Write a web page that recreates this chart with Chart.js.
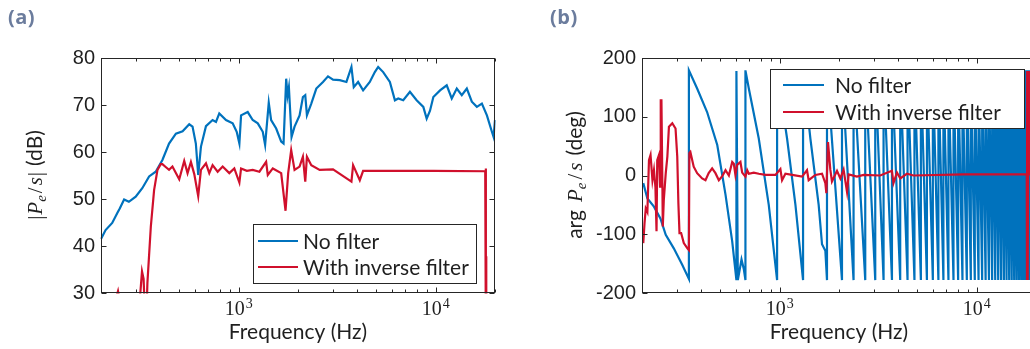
<!DOCTYPE html>
<html><head><meta charset="utf-8">
<script src="https://cdn.jsdelivr.net/npm/chart.js@4"></script>
<style>
html,body{margin:0;padding:0;background:#fff;overflow:hidden;width:1030px;height:349px;}
#wrap{position:relative;width:1030px;height:349px;overflow:hidden;background:#fff;}
canvas{position:absolute;top:0;}
#ca{left:0px}
#cb{left:541px}
.lab{position:absolute;font-family:"Open Sans";font-weight:bold;font-size:20px;line-height:20px;color:#6b7c9d;top:7px;letter-spacing:0.5px}
</style></head><body>
<div id="wrap">
<canvas id="ca" width="515" height="349"></canvas>
<canvas id="cb" width="515" height="349"></canvas>
<div class="lab" style="left:8px">(a)</div>
<div class="lab" style="left:550px">(b)</div>
</div>
<script>
// ---------- data ----------
const legendLabels = ['No filter', 'With inverse filter'];
const xTickValues = [1000, 10000];
const xTickExponents = ['3', '4'];
const xMinorTicks = [200,300,400,500,600,700,800,900,2000,3000,4000,5000,6000,7000,8000,9000,20000];

// (a) magnitude, no filter
const magFreqNoFilter = [200,211,228,242,249,262,277,300,324,351,379,410,443,480,519,561,583,606,623,643,682,737,767,797,862,932,977,1008,1028,1111,1178,1250,1325,1362,1421,1461,1550,1643,1689,1742,1770,1798,1855,1921,2037,2118,2177,2220,2336,2477,2678,2840,3012,3257,3522,3735,3838,4037,4281,4629,4909,5105,5413,5853,6208,6455,6843,7400,8002,8653,8999,9357,9730,10522,11376,12064,12794,13565,14386,15256,16178,17157,18195,19289,19670,20000];
const magNoFilter = [41.5,43.4,44.9,47.0,48.0,49.9,49.4,50.5,52.3,54.8,55.8,58.3,61.8,63.9,64.4,65.9,65.4,61.8,55.1,61.1,65.5,66.8,66.4,68.2,66.8,66.1,64.3,61.8,67.8,68.5,66.8,66.1,64.3,61.5,70.5,66.8,65.0,62.2,61.8,75.6,72.0,73.8,63.2,65.4,67.8,71.7,72.1,67.8,70.3,73.5,74.9,76.1,75.4,75.3,74.9,78.1,73.8,74.9,73.1,74.9,77.0,78.1,77.0,74.9,71.0,71.4,71.0,72.8,71.0,69.6,67.1,68.8,71.7,73.1,74.2,71.4,73.5,72.1,73.5,70.7,69.6,70.3,67.8,64.3,63.2,66.8];

// (a) magnitude, with inverse filter
const magFreqInverse = [200,228,244,252,290,314,323,329,334,340,344,358,372,387,402,410,426,443,461,499,529,550,572,595,623,643,682,709,737,782,829,896,950,1008,1028,1100,1178,1274,1378,1405,1490,1643,1729,1783,1847,1921,2037,2118,2177,2220,2336,2576,3012,3735,3808,4118,4281,5413,9730,17840,17950,18000,18030,18060,20000];
const magInverse = [22,26,30.4,27,24,28,34.6,33,26,25,32.1,44.1,51.9,56.2,57.4,57.4,56.8,56.2,56.9,54.2,58.1,55.5,57.9,55.3,50.6,56.2,57.6,55.5,57.2,55.8,56.9,55.5,56.5,53.5,56.5,56.0,56.2,55.8,57.9,55.1,56.5,55.5,47.5,55.5,60.4,56.2,56.9,59.0,53.7,59.0,57.2,56.2,56.3,53.7,57.2,54.0,56.0,56.0,56.0,55.9,56.5,20,37.8,20,20];

// (b) phase, no filter (wrapped sawtooth, wrap frequencies)
const argFreqNoFilter = [203,213,230,248,264,290,320,346,346,381,428,482,531,574,603,603,613,640,658,670,670,697,783,880,970,970,1090,1202,1314,1314,1431,1577,1640,1705,1738,1738,
 2071,2071,2371,2371,2718,2718,3055,3055,3367,3367,3714,3714,4090,4090,4456,4456,4831,4831,5207,5207,5589,5589,5990,5990,6392,6392,6777,6777,7188,7188,7624,7624,8051,8051,8467,8467,8911,8911,9337,9337,
 9780,9780,10220,10220,10660,10660,11100,11100,11540,11540,11980,11980,12420,12420,12860,12860,13300,13300,13740,13740,14180,14180,14620,14620,15060,15060,15500,15500,15940,15940,16380,16380,16820,16820,17260,17260,17700,17700,18140,18140,18580,18580,19020,19020,19460,19460,19900,19900,20000];
const argNoFilter = [-13,-39,-53,-73,-101,-124,-152,-176,179,148,108,52,-33,-112,-178,178,-178,-143,-160,-178,179,148,63,-50,-178,179,63,-50,-178,179,63,-50,-117,-128,-178,179,
 -178,179,-178,179,-178,179,-178,179,-178,179,-178,179,-178,179,-178,179,-178,179,-178,179,-178,179,-178,179,-178,179,-178,179,-178,179,-178,179,-178,179,-178,179,-178,179,-178,179,
 -178,179,-178,179,-178,179,-178,179,-178,179,-178,179,-178,179,-178,179,-178,179,-178,179,-178,179,-178,179,-178,179,-178,179,-178,179,-178,179,-178,179,-178,179,-178,179,-178,179,-178,179,-178,179,170];

// (b) phase, with inverse filter
const argFreqInverse = [203,206,209,213,217,221,226,230,234,237,239,244,247,249,251,254,255,258,264,269,274,285,296,302,306,310,316,326,340,346,348,352,366,381,404,420,436,454,472,491,511,531,552,574,585,596,608,632,645,670,684,697,739,783,847,951,1008,1028,1069,1156,1298,1376,1403,1517,1640,1705,1725,1759,1807,1842,1954,2032,2110,2197,2239,2467,2668,3238,3712,3781,3937,4093,4424,4779,8566,17950,18000,18040,18100,18200,18300,18400];
const argInverse = [-115,-81,-56,-62,26,35,-8,9,-20,-95,26,35,-19,128,128,-25,-87,-42,4,32,83,89,80,32,-47,-98,-98,-115,-124,-127,38,40,15,4,-5,-8,4,12,4,-8,-1,9,0,23,20,1,18,23,5,-2,9,3,5,3,1,1,11,-8,3,1,-2,9,-8,1,3,-13,-30,57,10,-10,8,-5,10,-28,2,-2,1,0,8,-13,5,-5,3,0,2,2,-178,178,140,-178,178,0];

// ---------- styling ----------
const BLUE = '#0072BD';
const RED = '#D0102C';
const AX = '#262626';
const TXT = '#1f1f1f';

function zip(xs, ys) { return xs.map((v, i) => ({x: v, y: ys[i]})); }

const decoPlugin = {
  id: 'deco',
  afterDatasetsDraw(chart, args, o) {
    const {ctx, chartArea: a, scales} = chart;
    const x = scales.x, y = scales.y;
    const L = Math.round(a.left) + 0.5, R = Math.round(a.right) - 0.5;
    const T = Math.round(a.top) + 0.5, B = Math.round(a.bottom) - 0.5;
    ctx.save();
    ctx.strokeStyle = AX; ctx.lineWidth = 1;
    ctx.strokeRect(L, T, R - L, B - T);
    ctx.beginPath();
    xMinorTicks.forEach(v => { const p = Math.round(x.getPixelForValue(v)) + 0.5;
      ctx.moveTo(p, B); ctx.lineTo(p, B - 3); ctx.moveTo(p, T); ctx.lineTo(p, T + 3); });
    xTickValues.forEach(v => { const p = Math.round(x.getPixelForValue(v)) + 0.5;
      ctx.moveTo(p, B); ctx.lineTo(p, B - 5); ctx.moveTo(p, T); ctx.lineTo(p, T + 5); });
    y.ticks.forEach(t => { const p = Math.round(y.getPixelForValue(t.value)) + 0.5;
      ctx.moveTo(L, p); ctx.lineTo(L + 5, p); ctx.moveTo(R, p); ctx.lineTo(R - 5, p); });
    ctx.stroke();
    // x tick labels 10^n
    ctx.fillStyle = TXT; ctx.textBaseline = 'alphabetic'; ctx.textAlign = 'left';
    xTickValues.forEach((v, i) => {
      const p = x.getPixelForValue(v);
      ctx.font = '20px "Liberation Serif"'; const w1 = ctx.measureText('10').width;
      ctx.font = '14px "Liberation Serif"'; const w2 = ctx.measureText(xTickExponents[i]).width;
      const s = p - (w1 + w2 + 1) / 2;
      ctx.font = '20px "Liberation Serif"'; ctx.fillText('10', s, 315);
      ctx.font = '14px "Liberation Serif"'; ctx.fillText(xTickExponents[i], s + w1 + 1, 308);
    });
    // legend
    const lg = o.legend;
    ctx.fillStyle = '#fff';
    ctx.fillRect(lg.x1, lg.y1, lg.x2 - lg.x1, lg.y2 - lg.y1);
    ctx.strokeStyle = AX; ctx.lineWidth = 1;
    ctx.strokeRect(lg.x1 + 0.5, lg.y1 + 0.5, lg.x2 - lg.x1, lg.y2 - lg.y1);
    const cols = [BLUE, RED];
    lg.rows.forEach((ry, i) => {
      ctx.strokeStyle = cols[i]; ctx.lineWidth = 2;
      ctx.beginPath(); ctx.moveTo(lg.lx1, ry); ctx.lineTo(lg.lx2, ry); ctx.stroke();
      ctx.fillStyle = TXT; ctx.font = '21px Lato'; ctx.textBaseline = 'middle';
      ctx.fillText(legendLabels[i], lg.tx, ry + 1);
    });
    // rotated y title
    const yt = o.ytitle;
    ctx.save();
    ctx.translate(yt.base, yt.cy); ctx.rotate(-Math.PI / 2);
    ctx.textBaseline = 'alphabetic'; ctx.fillStyle = TXT;
    let total = 0;
    yt.parts.forEach(pt => { ctx.font = pt.f; total += ctx.measureText(pt.t).width + (pt.g || 0); });
    let cx = -total / 2;
    yt.parts.forEach(pt => { ctx.font = pt.f; ctx.fillText(pt.t, cx, pt.dy || 0);
      cx += ctx.measureText(pt.t).width + (pt.g || 0); });
    ctx.restore();
    ctx.restore();
  }
};

const MATH = '21px "Liberation Serif"';
const MATHI = 'italic 21px "Liberation Serif"';
const SUBI = 'italic 15px "Liberation Serif"';
const SANS = '21px Lato';

function makeChart(id, d1, d2, ymin, ymax, step, w1, w2, deco) {
  return new Chart(document.getElementById(id), {
    type: 'scatter',
    data: { datasets: [
      { label: legendLabels[0], data: d1, borderColor: BLUE, borderWidth: w1, showLine: true, pointRadius: 0, clip: 0.5, order: 2 },
      { label: legendLabels[1], data: d2, borderColor: RED, borderWidth: w2, showLine: true, pointRadius: 0, clip: 0.5, order: 1 }
    ]},
    options: {
      responsive: false, animation: false, events: [],
      layout: { padding: { top: 58, right: 20, left: 0, bottom: 0 } },
      plugins: { legend: { display: false }, tooltip: { enabled: false }, deco: deco },
      scales: {
        x: { type: 'logarithmic', min: 200, max: 20000,
          grid: { display: false, drawTicks: false }, border: { display: false },
          ticks: { display: false },
          title: { display: true, text: 'Frequency (Hz)', font: { family: 'Lato', size: 21 }, color: TXT, padding: { top: 0, bottom: 4 } },
          afterFit: s => { s.height = 56; } },
        y: { min: ymin, max: ymax,
          ticks: { stepSize: step, font: { family: '"Liberation Sans"', size: 20 }, color: TXT, padding: 6 },
          grid: { display: false, drawTicks: false }, border: { display: false },
          afterFit: s => { s.width = 101; } }
      }
    },
    plugins: [decoPlugin]
  });
}

makeChart('ca', zip(magFreqNoFilter, magNoFilter), zip(magFreqInverse, magInverse), 30, 80, 10, 2.2, 2.2, {
  legend: { x1: 253, y1: 224, x2: 476, y2: 283, lx1: 258, lx2: 298, tx: 303, rows: [241, 267] },
  ytitle: { base: 41.5, cy: 175, parts: [
    { t: '|', f: MATH, g: 1 }, { t: 'P', f: MATHI, g: 0 }, { t: 'e', f: SUBI, dy: 4, g: 2 },
    { t: '/', f: MATH, g: 2 }, { t: 's', f: MATHI, g: 1 }, { t: '|', f: MATH, g: 6 }, { t: '(dB)', f: SANS } ] }
});
makeChart('cb', zip(argFreqNoFilter, argNoFilter), zip(argFreqInverse, argInverse), -200, 200, 100, 2.2, 2.2, {
  legend: { x1: 770 - 541, y1: 69, x2: 1024 - 541, y2: 128, lx1: 783 - 541, lx2: 824 - 541, tx: 835 - 541, rows: [85, 112] },
  ytitle: { base: 582 - 541, cy: 175, parts: [
    { t: 'arg', f: SANS, g: 8 }, { t: 'P', f: MATHI, g: 0 }, { t: 'e', f: SUBI, dy: 4, g: 3 },
    { t: '/', f: MATH, g: 3 }, { t: 's', f: MATHI, g: 7 }, { t: '(deg)', f: SANS } ] }
});
</script>
</body></html>
